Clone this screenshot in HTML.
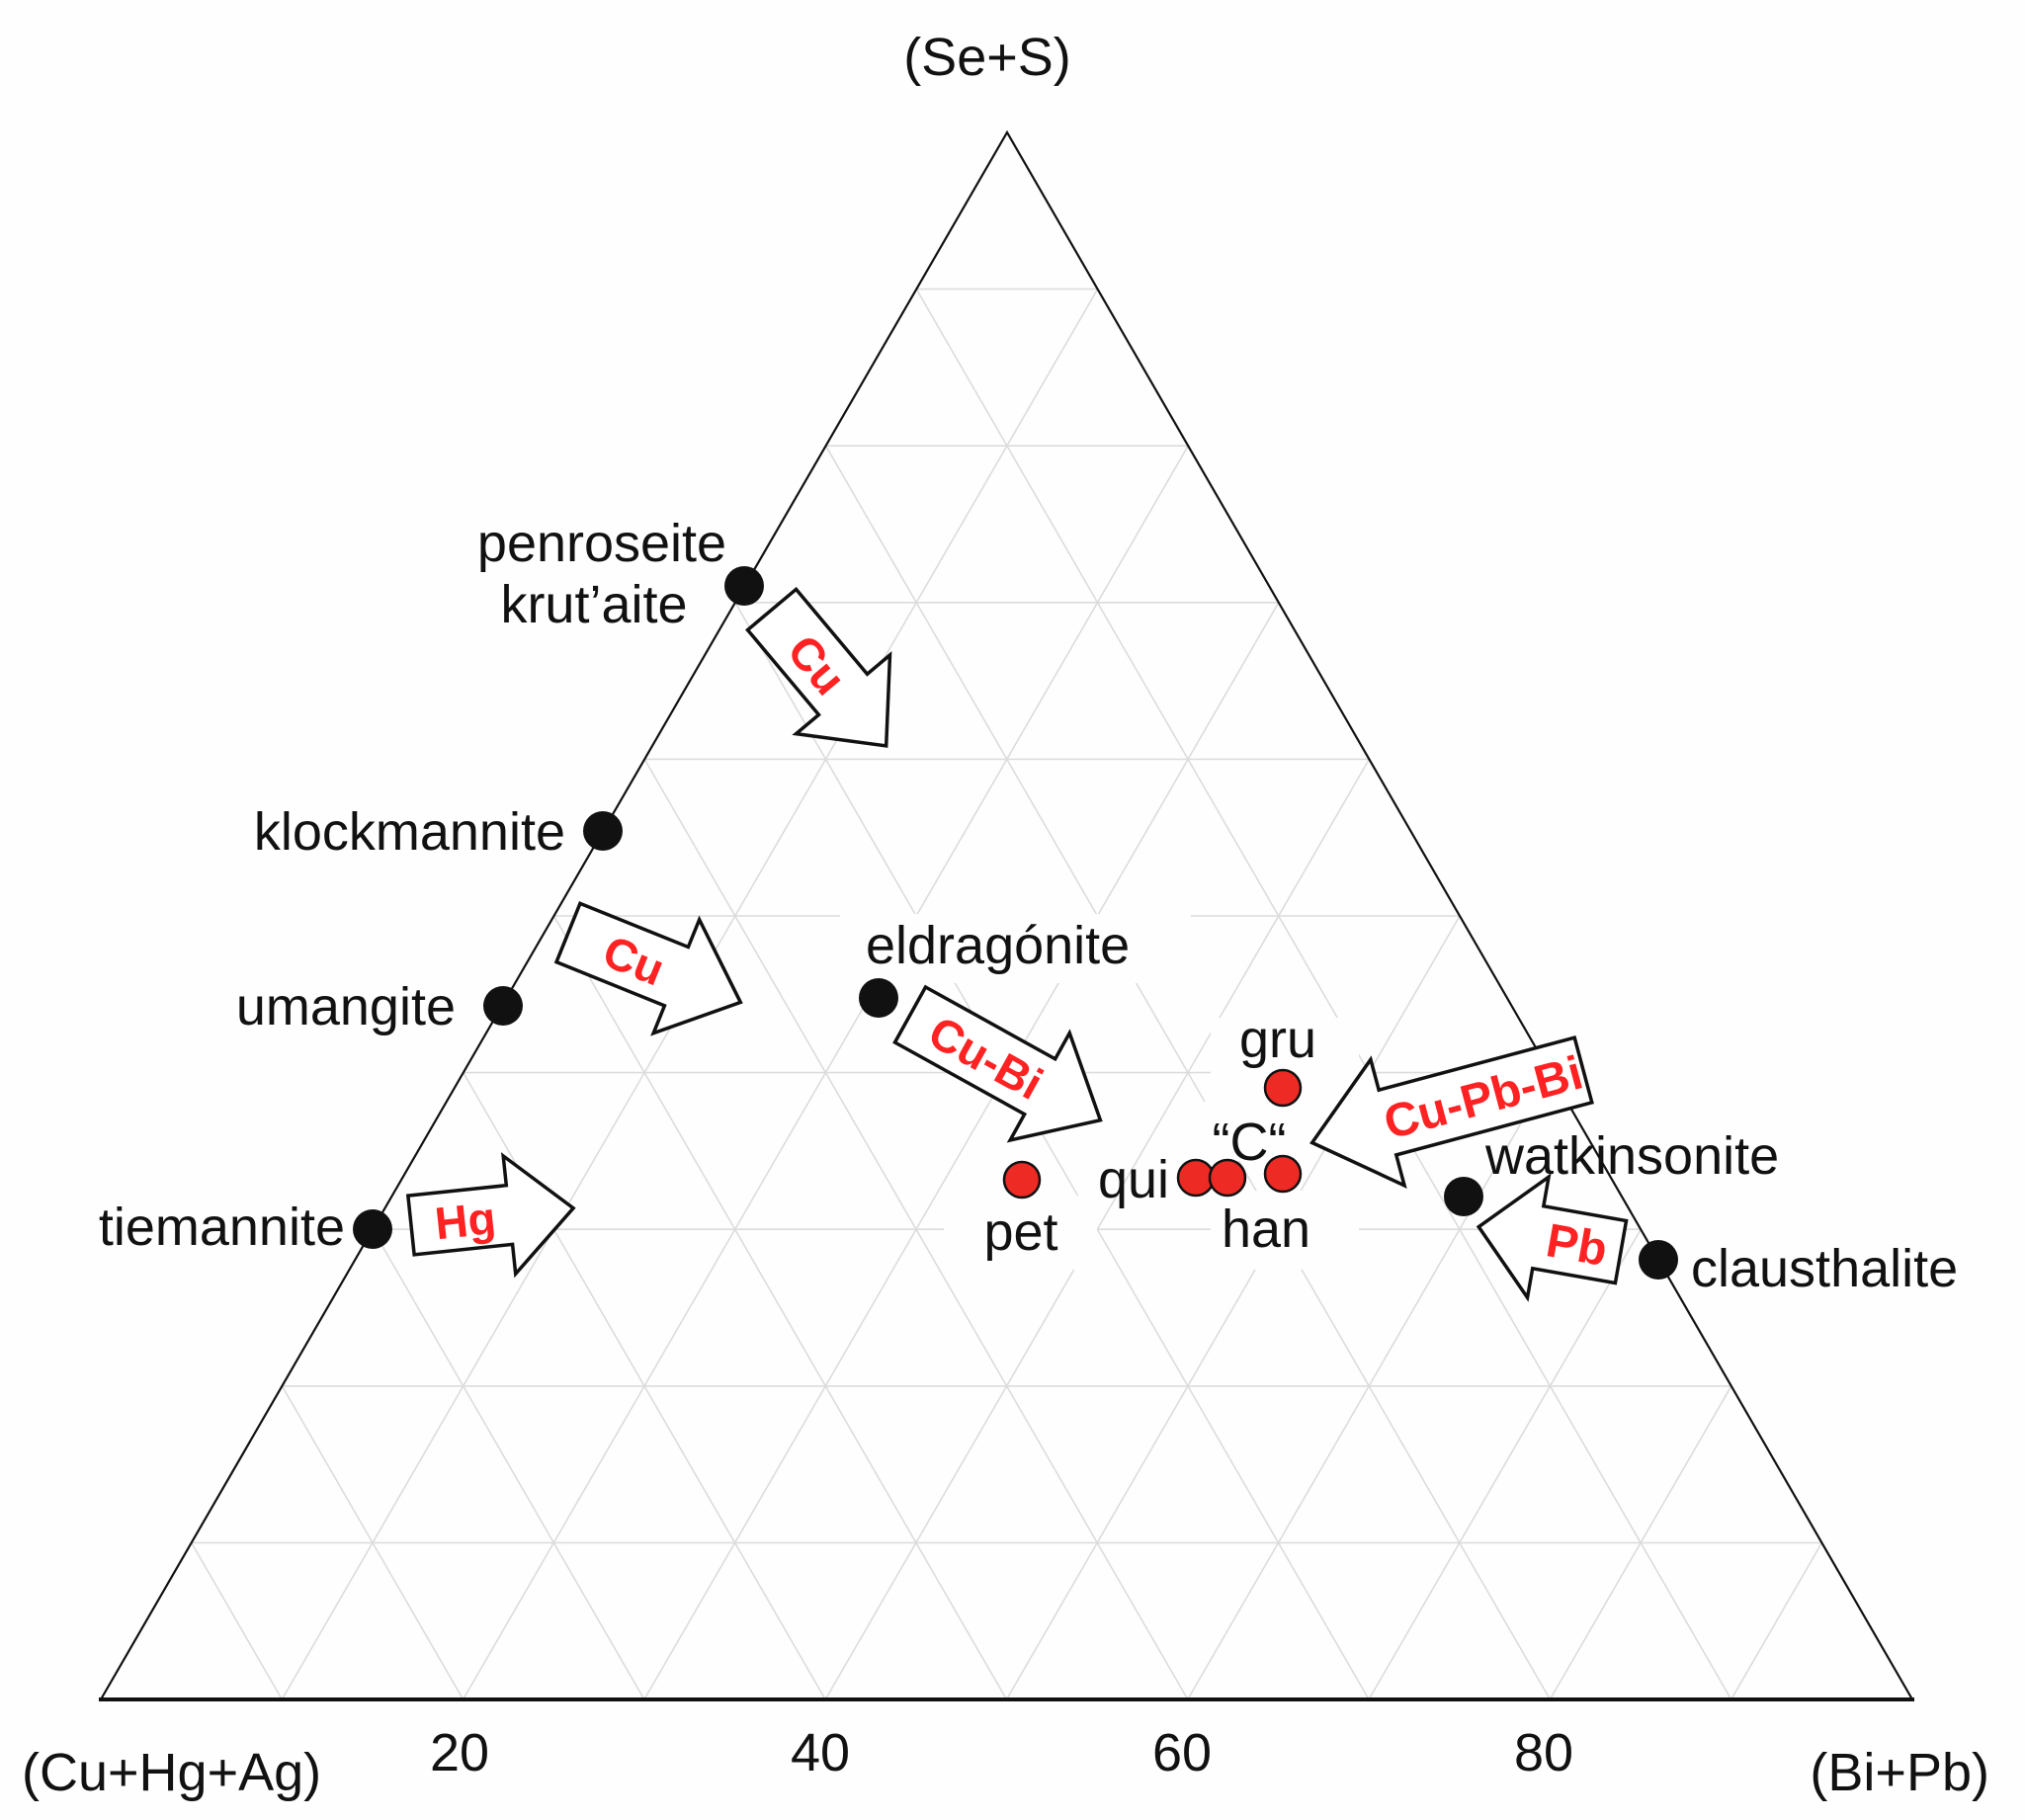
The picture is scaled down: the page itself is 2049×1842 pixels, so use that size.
<!DOCTYPE html>
<html><head><meta charset="utf-8"><style>
html,body{margin:0;padding:0;background:#fff;}
svg{display:block;}
text{font-family:"Liberation Sans",sans-serif;}
</style></head><body>
<svg width="2049" height="1842" viewBox="0 0 2049 1842" xmlns="http://www.w3.org/2000/svg">
<rect width="2049" height="1842" fill="#fefefe"/>
<g stroke="#dcdcdc" stroke-width="1.6" fill="none">
<line x1="193.7" y1="1561.4" x2="1843.4" y2="1561.4"/>
<line x1="285.4" y1="1402.8" x2="1751.8" y2="1402.8"/>
<line x1="377.1" y1="1244.2" x2="1660.2" y2="1244.2"/>
<line x1="468.8" y1="1085.6" x2="1568.6" y2="1085.6"/>
<line x1="560.5" y1="927" x2="1477" y2="927"/>
<line x1="652.2" y1="768.4" x2="1385.4" y2="768.4"/>
<line x1="743.9" y1="609.8" x2="1293.8" y2="609.8"/>
<line x1="835.6" y1="451.2" x2="1202.2" y2="451.2"/>
<line x1="927.3" y1="292.6" x2="1110.6" y2="292.6"/>
<line x1="285.3" y1="1720" x2="1110.6" y2="292.6"/>
<line x1="468.6" y1="1720" x2="1202.2" y2="451.2"/>
<line x1="651.9" y1="1720" x2="1293.8" y2="609.8"/>
<line x1="835.2" y1="1720" x2="1385.4" y2="768.4"/>
<line x1="1018.5" y1="1720" x2="1477" y2="927"/>
<line x1="1201.8" y1="1720" x2="1568.6" y2="1085.6"/>
<line x1="1385.1" y1="1720" x2="1660.2" y2="1244.2"/>
<line x1="1568.4" y1="1720" x2="1751.8" y2="1402.8"/>
<line x1="1751.7" y1="1720" x2="1843.4" y2="1561.4"/>
<line x1="285.3" y1="1720" x2="193.7" y2="1561.4"/>
<line x1="468.6" y1="1720" x2="285.4" y2="1402.8"/>
<line x1="651.9" y1="1720" x2="377.1" y2="1244.2"/>
<line x1="835.2" y1="1720" x2="468.8" y2="1085.6"/>
<line x1="1018.5" y1="1720" x2="560.5" y2="927"/>
<line x1="1201.8" y1="1720" x2="652.2" y2="768.4"/>
<line x1="1385.1" y1="1720" x2="743.9" y2="609.8"/>
<line x1="1568.4" y1="1720" x2="835.6" y2="451.2"/>
<line x1="1751.7" y1="1720" x2="927.3" y2="292.6"/>
</g>
<g fill="#fefefe">
<rect x="850" y="925" width="355" height="70"/>
<rect x="955" y="1210" width="155" height="75"/>
<rect x="1225" y="1205" width="150" height="80"/>
<rect x="1225" y="1030" width="150" height="70"/>
<rect x="1200" y="1115" width="120" height="60"/>
</g>
<polygon points="102,1720 1019,134 1935,1720" fill="none" stroke="#111" stroke-width="2.2"/>
<line x1="100" y1="1720" x2="1937" y2="1720" stroke="#111" stroke-width="4"/>

<g fill="#fff" stroke="#111" stroke-width="3.5">
<g transform="translate(781,617) rotate(50)"><polygon points="0,-32 112,-32 112,-62 180,0 112,62 112,32 0,32"/><text x="72" y="17" fill="#f22" stroke="none" font-size="46" font-weight="bold" text-anchor="middle">Cu</text></g>
<g transform="translate(575,944) rotate(22)"><polygon points="0,-32 118,-32 118,-62 188,0 118,62 118,32 0,32"/><text x="72" y="17" fill="#f22" stroke="none" font-size="46" font-weight="bold" text-anchor="middle">Cu</text></g>
<g transform="translate(921,1027) rotate(29)"><polygon points="0,-32 150,-32 150,-62 220,0 150,62 150,32 0,32"/><text x="88" y="17" fill="#f22" stroke="none" font-size="46" font-weight="bold" text-anchor="middle">Cu-Bi</text></g>
<g transform="translate(416,1240) rotate(-6)"><polygon points="0,-30 100,-30 100,-60 165,0 100,60 100,30 0,30"/><text x="55" y="17" fill="#f22" stroke="none" font-size="46" font-weight="bold" text-anchor="middle">Hg</text></g>
<g transform="translate(1602,1083) rotate(165)"><polygon points="0,-34 205,-34 205,-66 284,0 205,66 205,34 0,34"/><text x="105" y="17" fill="#f22" stroke="none" font-size="48" font-weight="bold" text-anchor="middle" transform="rotate(180 105 0)">Cu-Pb-Bi</text></g>
<g transform="translate(1640,1267) rotate(190)"><polygon points="0,-32 85,-32 85,-62 146,0 85,62 85,32 0,32"/><text x="45" y="17" fill="#f22" stroke="none" font-size="48" font-weight="bold" text-anchor="middle" transform="rotate(180 45 0)">Pb</text></g>
</g>

<g fill="#111">
<circle cx="753" cy="593" r="20"/>
<circle cx="610" cy="841" r="20"/>
<circle cx="509" cy="1018" r="20"/>
<circle cx="377" cy="1244" r="20"/>
<circle cx="889" cy="1010" r="20"/>
<circle cx="1481" cy="1211" r="20"/>
<circle cx="1678" cy="1275" r="20"/>
</g>
<g fill="#ee2a24" stroke="#111" stroke-width="2.5">
<circle cx="1034" cy="1194" r="18"/>
<circle cx="1210" cy="1192" r="18"/>
<circle cx="1242" cy="1192" r="18"/>
<circle cx="1298" cy="1188" r="18"/>
<circle cx="1298" cy="1101" r="18"/>
</g>

<g fill="#111" font-size="54">
<text x="609" y="568" text-anchor="middle">penroseite</text>
<text x="601" y="630" text-anchor="middle">krut’aite</text>
<text x="572" y="860" text-anchor="end">klockmannite</text>
<text x="461" y="1037" text-anchor="end">umangite</text>
<text x="349" y="1260" text-anchor="end">tiemannite</text>
<text x="876" y="975">eldragónite</text>
<text x="1293" y="1070" text-anchor="middle">gru</text>
<text x="1264" y="1174" text-anchor="middle">“C“</text>
<text x="1183" y="1212" text-anchor="end">qui</text>
<text x="1281" y="1262" text-anchor="middle">han</text>
<text x="1033" y="1265" text-anchor="middle">pet</text>
<text x="1503" y="1188">watkinsonite</text>
<text x="1711" y="1302">clausthalite</text>
<text x="999" y="76" text-anchor="middle">(Se+S)</text>
<text x="22" y="1812">(Cu+Hg+Ag)</text>
<text x="465" y="1792" text-anchor="middle">20</text>
<text x="830" y="1792" text-anchor="middle">40</text>
<text x="1196" y="1792" text-anchor="middle">60</text>
<text x="1562" y="1792" text-anchor="middle">80</text>
<text x="2013" y="1812" text-anchor="end">(Bi+Pb)</text>
</g>
</svg>
</body></html>
